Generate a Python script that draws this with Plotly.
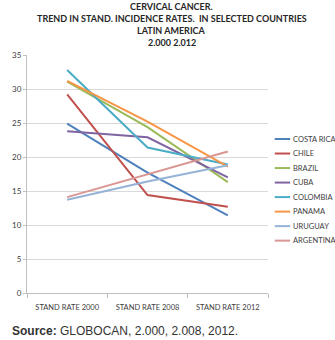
import plotly.graph_objects as go

categories = ["STAND RATE 2000", "STAND RATE 2008", "STAND RATE 2012"]
countries = ["COSTA RICA", "CHILE", "BRAZIL", "CUBA", "COLOMBIA", "PANAMA", "URUGUAY", "ARGENTINA"]
costa_rica = [24.9, 17.7, 11.4]
chile = [29.2, 14.4, 12.7]
brazil = [31.1, 24.4, 16.3]
cuba = [23.8, 22.9, 17.0]
colombia = [32.8, 21.4, 18.9]
panama = [31.2, 25.2, 18.6]
uruguay = [13.7, 16.4, 18.8]
argentina = [14.1, 17.4, 20.8]
colors = ["#4F81BD", "#C0504D", "#9BBB59", "#8064A2", "#4BACC6", "#F79646", "#95B3D7", "#D99694"]
title_lines = ["CERVICAL CANCER.", "TREND IN STAND. INCIDENCE RATES.  IN SELECTED COUNTRIES",
               "LATIN AMERICA", "2.000 2.012"]

series = [costa_rica, chile, brazil, cuba, colombia, panama, uruguay, argentina]

fig = go.Figure()
for name, vals, c in zip(countries, series, colors):
    fig.add_trace(go.Scatter(x=categories, y=vals, name=name, mode="lines",
                             line=dict(color=c, width=2), showlegend=False))

# manual legend (Excel-like spacing)
lx0, lx1, ltx = 1.028, 1.092, 1.096
ly0, lstep = 0.647, 0.0610
for i, (name, c) in enumerate(zip(countries, colors)):
    yy = ly0 - i * lstep
    fig.add_shape(type="line", xref="paper", yref="paper", x0=lx0, x1=lx1, y0=yy, y1=yy,
                  line=dict(color=c, width=2))
    fig.add_annotation(xref="paper", yref="paper", x=ltx, y=yy, text=name, showarrow=False,
                       xanchor="left", yanchor="middle", font=dict(size=7.5, color="#404040", family="Lato"))

# title lines
for i, t in enumerate(title_lines):
    fig.add_annotation(xref="paper", yref="paper", x=(168 - 18) / 250, y=(293 - (6.5 + 12 * i)) / 238,
                       text="<b>" + t + "</b>", showarrow=False, xanchor="center", yanchor="middle",
                       font=dict(size=9, color="#262626", family="Lato"))

fig.add_annotation(xref="paper", yref="paper", x=-18 / 250, y=-38 / 238, xanchor="left", yanchor="middle",
                   text="<b>Source:</b> GLOBOCAN, 2.000, 2.008, 2012.", showarrow=False,
                   font=dict(size=12, color="#333333", family="Liberation Sans"))

fig.update_layout(
    width=335, height=340,
    margin=dict(l=18, r=67, t=55, b=47),
    paper_bgcolor="white", plot_bgcolor="white",
    xaxis=dict(range=[-0.5, 2.5], showgrid=False, showline=True, linecolor="#BFBFBF", linewidth=1,
               ticks="outside", tickson="boundaries", ticklen=4, tickcolor="#BFBFBF",
               ticklabelstandoff=7,
               tickfont=dict(size=7.5, color="#404040", family="Lato")),
    yaxis=dict(range=[0, 35], dtick=5, showgrid=True, gridcolor="#D9D9D9", gridwidth=1,
               showline=True, linecolor="#BFBFBF", ticks="outside", ticklen=3, tickcolor="#BFBFBF",
               zeroline=False, tickfont=dict(size=8, color="#404040", family="Lato")),
)

fig.write_html("out.html")
